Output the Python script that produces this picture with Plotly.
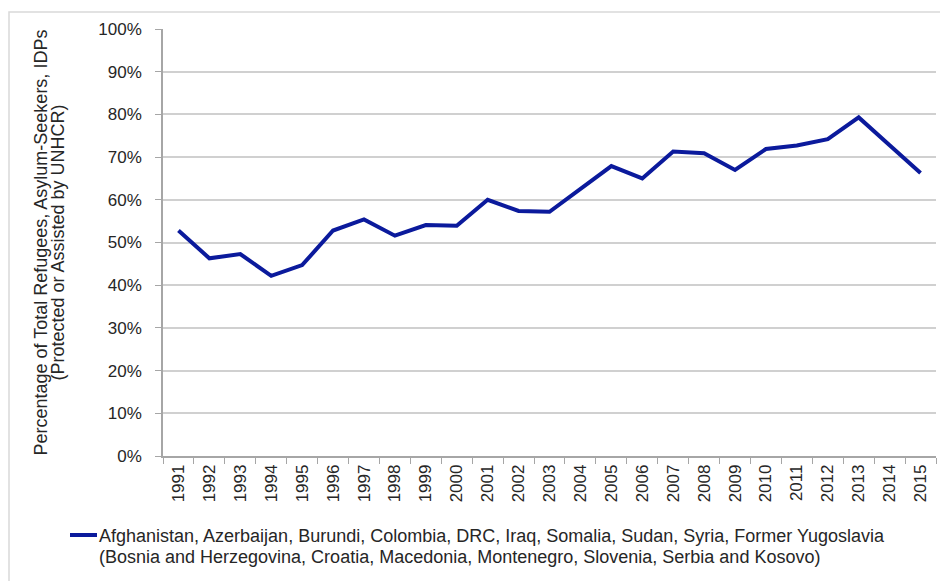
import plotly.graph_objects as go

# share of refugees/asylum-seekers/IDPs from the listed countries
years = [str(y) for y in range(1991, 2016)]
share = [52.8, 46.3, 47.3, 42.2, 44.7, 52.8, 55.4, 51.6, 54.1, 53.9,
         60.0, 57.4, 57.2, 62.5, 67.9, 65.0, 71.3, 70.9, 67.0, 71.9,
         72.7, 74.2, 79.3, 72.8, 66.3]
y_ticks = list(range(0, 101, 10))
y_ticktext = [f"{v}%" for v in y_ticks]

legend_line1 = ("Afghanistan, Azerbaijan, Burundi, Colombia, DRC, Iraq, Somalia, "
                "Sudan, Syria, Former Yugoslavia")
legend_line2 = ("(Bosnia and Herzegovina, Croatia, Macedonia, Montenegro, "
                "Slovenia, Serbia and Kosovo)")
y_title1 = "Percentage of Total Refugees, Asylum-Seekers, IDPs"
y_title2 = "(Protected or Assisted by UNHCR)"

line_color = "#0b1a9c"
font = "Liberation Sans, Arial, sans-serif"

W, H = 940, 581
# plot area in page pixels
PL, PR, PT, PB = 163, 936, 29, 456


def px_x(x):
    # page pixel -> paper coordinate
    return (x - PL) / (PR - PL)


def px_y(y):
    return (PB - y) / (PB - PT)


fig = go.Figure(go.Scatter(
    x=years, y=share, mode="lines",
    line=dict(color=line_color, width=4),
    showlegend=False,
))

fig.update_layout(
    width=W, height=H,
    margin=dict(l=PL, r=W - PR, t=PT, b=H - PB, autoexpand=False),
    paper_bgcolor="white", plot_bgcolor="white",
    font=dict(family=font, size=17, color="#262626"),
)
fig.update_xaxes(
    type="category", range=[-0.5, len(years) - 0.5],
    tickangle=-90, tickfont=dict(size=17),
    showline=True, linecolor="#a6a6a6", linewidth=1.5,
    ticks="outside", ticklen=6, tickcolor="#a6a6a6",
    tickson="boundaries", showgrid=False, automargin=False,
)
fig.update_yaxes(
    range=[0, 100], tickvals=y_ticks, ticktext=y_ticktext,
    tickfont=dict(size=17), ticklabelstandoff=10,
    showline=True, linecolor="#a6a6a6", linewidth=1.5,
    ticks="outside", ticklen=6, tickcolor="#a6a6a6",
    gridcolor="#d0d0d0", gridwidth=1.5, zeroline=False, automargin=False,
)

# y-axis title, two lines
fig.add_annotation(text=y_title1, xref="paper", yref="paper",
                   x=px_x(40), y=0.5, xanchor="center", yanchor="middle",
                   textangle=-90, showarrow=False, font=dict(size=18))
fig.add_annotation(text=y_title2, xref="paper", yref="paper",
                   x=px_x(57), y=0.5, xanchor="center", yanchor="middle",
                   textangle=-90, showarrow=False, font=dict(size=18))

# chart frame
fig.add_shape(type="rect", xref="paper", yref="paper",
              x0=px_x(9), x1=px_x(960), y0=px_y(600), y1=px_y(12),
              line=dict(color="#d9d9d9", width=1.5), layer="below")

# legend drawn by hand so the second line lines up under the first
fig.add_shape(type="line", xref="paper", yref="paper",
              x0=px_x(70), x1=px_x(97), y0=px_y(535), y1=px_y(535),
              line=dict(color=line_color, width=4))
fig.add_annotation(text=legend_line1, xref="paper", yref="paper",
                   x=px_x(97), y=px_y(536), xanchor="left", yanchor="middle",
                   showarrow=False, font=dict(size=18))
fig.add_annotation(text=legend_line2, xref="paper", yref="paper",
                   x=px_x(97), y=px_y(557), xanchor="left", yanchor="middle",
                   showarrow=False, font=dict(size=18))

# drop the default page margin so the figure fills the window exactly
fig.write_html(
    "out.html",
    config={"displayModeBar": False},
    post_script="document.body.style.margin='0';"
                "document.body.style.overflow='hidden';",
)
